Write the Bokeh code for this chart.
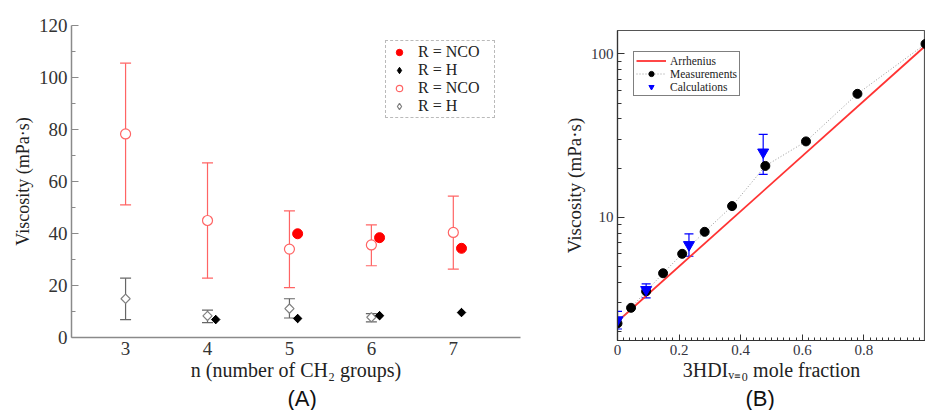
from bokeh.plotting import figure
from bokeh.layouts import row, column
from bokeh.models import (ColumnDataSource, Whisker, TeeHead, Legend, LegendItem,
                          Title, FixedTicker, PrintfTickFormatter, Range1d)
from bokeh.transform import dodge
from bokeh.embed import file_html
from bokeh.resources import INLINE

# ---------------- Panel A data ----------------
n_exp = [3, 4, 5, 6, 7]
nco_exp = [78.3, 45.0, 34.0, 35.6, 40.4]
nco_exp_lo = [51.0, 22.8, 19.2, 27.6, 26.3]
nco_exp_hi = [105.5, 67.2, 48.7, 43.3, 54.4]

n_h_exp = [3, 4, 5, 6]
h_exp = [14.9, 8.3, 11.1, 7.8]
h_exp_lo = [6.9, 5.7, 7.5, 6.0]
h_exp_hi = [22.8, 10.5, 14.9, 9.2]

n_nco_calc = [5, 6, 7]
nco_calc = [39.9, 38.4, 34.3]

n_h_calc = [4, 5, 6, 7]
h_calc = [6.9, 7.3, 8.4, 9.6]

a_xticks = [3, 4, 5, 6, 7]
a_yticks = [0, 20, 40, 60, 80, 100, 120]
a_yminor = [10, 30, 50, 70, 90, 110]

# ---------------- Panel B data ----------------
meas_x = [0.0, 0.044, 0.093, 0.148, 0.21, 0.283, 0.372, 0.48, 0.612, 0.779, 1.0]
meas_y = [2.24, 2.79, 3.52, 4.54, 5.97, 8.14, 11.7, 20.6, 29.1, 56.9, 115.0]

calc_x = [0.0, 0.093, 0.232, 0.473]
calc_y = [2.35, 3.6, 6.78, 25.0]
calc_lo = [2.07, 3.21, 5.77, 18.3]
calc_hi = [2.65, 3.91, 7.91, 32.1]

arr_x = [0.0, 1.0]
arr_y = [2.3, 112.0]

b_xticks = [0, 0.2, 0.4, 0.6, 0.8]
b_xminor = [round(i * 0.02, 2) for i in range(51)]
b_yticks = [10, 100]
b_yminor = [2, 3, 4, 5, 6, 7, 8, 9, 20, 30, 40, 50, 60, 70, 80, 90]

SERIF = "Liberation Serif"
SANS = "Liberation Sans"

# ================= Panel A =================
p1 = figure(width=560, height=410, x_range=Range1d(2.34, 7.82), y_range=Range1d(0, 120),
            output_backend="svg", toolbar_location=None,
            min_border_left=71, min_border_right=40, min_border_top=25, min_border_bottom=71)
p1.outline_line_color = None
p1.xgrid.visible = False
p1.ygrid.visible = False

src_nco_exp = ColumnDataSource(dict(n=n_exp, v=nco_exp, lo=nco_exp_lo, hi=nco_exp_hi))
src_h_exp = ColumnDataSource(dict(n=n_h_exp, v=h_exp, lo=h_exp_lo, hi=h_exp_hi))
src_nco_calc = ColumnDataSource(dict(n=n_nco_calc, v=nco_calc))
src_h_calc = ColumnDataSource(dict(n=n_h_calc, v=h_calc))

ered = "#ff6464"
egray = "#666666"
p1.add_layout(Whisker(source=src_nco_exp, base="n", lower="lo", upper="hi",
                      line_color=ered, line_width=1.2,
                      lower_head=TeeHead(size=11, line_color=ered, line_width=1.2),
                      upper_head=TeeHead(size=11, line_color=ered, line_width=1.2)))
p1.add_layout(Whisker(source=src_h_exp, base="n", lower="lo", upper="hi",
                      line_color=egray, line_width=1.2,
                      lower_head=TeeHead(size=11, line_color=egray, line_width=1.2),
                      upper_head=TeeHead(size=11, line_color=egray, line_width=1.2)))

r_nco_exp = p1.scatter("n", "v", source=src_nco_exp, marker="circle", size=10,
                       fill_color="white", line_color=ered, line_width=1.2)
# diamond glyphs (used by the legend), covered by the rotated squares drawn on top
leg_h_exp = p1.scatter("n", "v", source=src_h_exp, marker="diamond", size=8,
                       fill_color="white", line_color="#808080", line_width=1.2)
p1.scatter("n", "v", source=src_h_exp, marker="square", angle=0.785398, size=6.5,
           fill_color="white", line_color="#808080", line_width=1.2)
r_nco_calc = p1.scatter(dodge("n", 0.1), "v", source=src_nco_calc, marker="circle", size=10,
                        fill_color="#ff0000", line_color="#ff0000")
leg_h_calc = p1.scatter(dodge("n", 0.1), "v", source=src_h_calc, marker="diamond", size=8,
                        fill_color="black", line_color="black")
p1.scatter(dodge("n", 0.1), "v", source=src_h_calc, marker="square", angle=0.785398,
           size=6, fill_color="black", line_color="black")

p1.xaxis.ticker = FixedTicker(ticks=a_xticks)
p1.yaxis.ticker = FixedTicker(ticks=a_yticks, minor_ticks=a_yminor)
for ax in (p1.xaxis[0], p1.yaxis[0]):
    ax.axis_line_color = "#8a8a8a"
    ax.axis_line_width = 1.5
    ax.major_tick_line_color = "#8a8a8a"
    ax.minor_tick_line_color = "#8a8a8a"
    ax.major_label_text_font = SERIF
    ax.major_label_text_font_size = "19px"
    ax.major_label_text_color = "#333333"
    ax.major_label_standoff = 4
    ax.axis_label_text_font = SERIF
    ax.axis_label_text_font_style = "normal"
    ax.axis_label_text_color = "#222222"
p1.xaxis.major_tick_in = 0
p1.xaxis.major_tick_out = 0
p1.xaxis.minor_tick_in = 0
p1.xaxis.minor_tick_out = 0
p1.yaxis.major_tick_in = 7
p1.yaxis.major_tick_out = 0
p1.yaxis.minor_tick_in = 4
p1.yaxis.minor_tick_out = 0
p1.xaxis.axis_label = "n (number of CH\u2082 groups)"
p1.xaxis.axis_label_text_font_size = "20px"
p1.xaxis.axis_label_standoff = 1

# y label as a left title so it can be shifted up like in the reference
p1.add_layout(Title(text="Viscosity (mPa\u00b7s)", align="center", offset=18, standoff=6,
                    text_font=SERIF, text_font_size="18px", text_font_style="normal",
                    text_color="#222222"), "left")

p1.add_layout(Title(text="(A)", align="left", offset=216, standoff=0,
                    text_font=SANS, text_font_size="22px", text_font_style="normal",
                    text_color="#111111"), "below")

leg1 = Legend(items=[LegendItem(label="R = NCO", renderers=[r_nco_calc]),
                     LegendItem(label="R = H", renderers=[leg_h_calc]),
                     LegendItem(label="R = NCO", renderers=[r_nco_exp]),
                     LegendItem(label="R = H", renderers=[leg_h_exp])],
              location=(314, 219), margin=0, padding=2, spacing=0,
              glyph_width=22, glyph_height=16, label_height=16, label_standoff=8,
              label_width=74,
              label_text_font=SERIF, label_text_font_size="16px", label_text_color="#222222",
              border_line_color="#777777", border_line_dash="dotted", border_line_width=1,
              background_fill_color="white", background_fill_alpha=1.0)
p1.add_layout(leg1)

# ================= Panel B =================
p2 = figure(width=365, height=410, x_range=Range1d(0, 1.0), y_range=Range1d(1.76, 138.9),
            y_axis_type="log", output_backend="svg", toolbar_location=None,
            min_border_left=57, min_border_right=0, min_border_top=30, min_border_bottom=70)
p2.outline_line_color = "#555555"
p2.outline_line_width = 1.2
p2.xgrid.visible = False
p2.ygrid.visible = False

src_meas = ColumnDataSource(dict(x=meas_x, y=meas_y))
src_calc = ColumnDataSource(dict(x=calc_x, y=calc_y, lo=calc_lo, hi=calc_hi))
src_arr = ColumnDataSource(dict(x=arr_x, y=arr_y))

r_arr = p2.line("x", "y", source=src_arr, line_color="#ff3333", line_width=1.8)
r_meas_line = p2.line("x", "y", source=src_meas, line_color="#999999", line_width=1,
                      line_dash="1 2")
blue = "#0000ff"
p2.add_layout(Whisker(source=src_calc, base="x", lower="lo", upper="hi",
                      line_color=blue, line_width=1.2,
                      lower_head=TeeHead(size=9, line_color=blue, line_width=1.2),
                      upper_head=TeeHead(size=9, line_color=blue, line_width=1.2)))
r_meas = p2.scatter("x", "y", source=src_meas, marker="circle", size=9,
                    fill_color="black", line_color="black")
r_calc = p2.scatter("x", "y", source=src_calc, marker="inverted_triangle", size=11,
                    fill_color=blue, line_color=blue)

p2.xaxis.ticker = FixedTicker(ticks=b_xticks, minor_ticks=b_xminor)
p2.yaxis.ticker = FixedTicker(ticks=b_yticks, minor_ticks=b_yminor)
p2.yaxis.formatter = PrintfTickFormatter(format="%d")
for ax in (p2.xaxis[0], p2.yaxis[0]):
    ax.axis_line_color = "#333333"
    ax.axis_line_width = 1.2
    ax.major_tick_line_color = "#333333"
    ax.minor_tick_line_color = "#333333"
    ax.major_label_text_font = SERIF
    ax.major_label_text_font_size = "15px"
    ax.major_label_text_color = "#333340"
    ax.major_label_standoff = 4
    ax.major_tick_out = 0
    ax.minor_tick_out = 0
    ax.axis_label_text_font = SERIF
    ax.axis_label_text_font_style = "normal"
    ax.axis_label_text_color = "#222222"
p2.xaxis.major_tick_in = 6
p2.xaxis.minor_tick_in = 3
p2.yaxis.major_tick_in = 7
p2.yaxis.minor_tick_in = 4
p2.yaxis.axis_label = "Viscosity (mPa\u00b7s)"
p2.yaxis.axis_label_text_font_size = "19px"
p2.yaxis.axis_label_standoff = 3
p2.xaxis.axis_label = "3HDI\u1d65\u208c\u2080 mole fraction"
p2.xaxis.axis_label_text_font_size = "20px"
p2.xaxis.axis_label_standoff = 1

p2.add_layout(Title(text="(B)", align="left", offset=128, standoff=0,
                    text_font=SANS, text_font_size="22px", text_font_style="normal",
                    text_color="#111111"), "below")

leg2 = Legend(items=[LegendItem(label="Arrhenius", renderers=[r_arr]),
                     LegendItem(label="Measurements", renderers=[r_meas_line, r_meas]),
                     LegendItem(label="Calculations", renderers=[r_calc])],
              location=(16, 244), margin=0, padding=2, spacing=0,
              glyph_width=30, glyph_height=13, label_height=13, label_standoff=4,
              label_text_font=SERIF, label_text_font_size="11.5px", label_text_color="#222222",
              border_line_color="black", border_line_width=1,
              background_fill_color="white", background_fill_alpha=1.0)
p2.add_layout(leg2)

layout = row(column(p1), column(p2))
open("out.html", "w").write(file_html(layout, INLINE))
